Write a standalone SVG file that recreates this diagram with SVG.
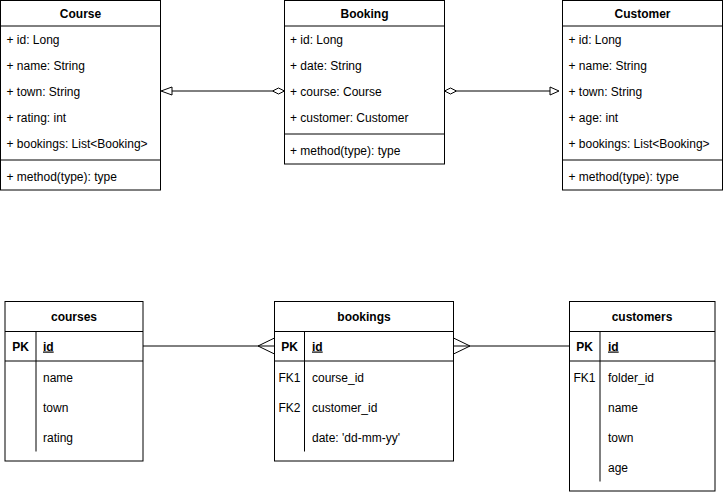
<svg xmlns="http://www.w3.org/2000/svg" width="723" height="492" viewBox="0 0 723 492">
<style>
text{font-family:"Liberation Sans",Arial,sans-serif;font-size:12px;fill:#000}
.t{font-weight:bold;text-anchor:middle}
.c{text-anchor:middle}
.b{font-weight:bold}
.box{fill:#fff;stroke:#000;stroke-width:1}
.ln{stroke:#000;stroke-width:1;fill:none}
</style>
<rect width="723" height="492" fill="#fff"/>
<g id="connectors">
<line class="ln" x1="172" y1="91" x2="272.5" y2="91"/>
<polygon points="161,91 172,87 172,95" fill="#fff" stroke="#000"/>
<polygon points="284.5,91 278.5,88 272.5,91 278.5,94" fill="#fff" stroke="#000"/>
<line class="ln" x1="456.5" y1="91" x2="550" y2="91"/>
<polygon points="444.5,91 450.5,88 456.5,91 450.5,94" fill="#fff" stroke="#000"/>
<polygon points="559,91 550,87 550,95" fill="#fff" stroke="#000"/>
<line class="ln" x1="143" y1="346" x2="274.5" y2="346"/>
<path class="ln" d="M274.5,338 L258,346 L274.5,354"/>
<line class="ln" x1="453.5" y1="346" x2="569.5" y2="346"/>
<path class="ln" d="M453.5,338 L470,346 L453.5,354"/>
</g>
<g id="Course">
<rect class="box" x="0.5" y="0.5" width="160" height="189.5"/>
<line class="ln" x1="0.5" y1="26" x2="160.5" y2="26"/>
<line class="ln" x1="0.5" y1="160" x2="160.5" y2="160"/>
<text class="t" x="80.5" y="17.5">Course</text>
<text x="6.5" y="43.5">+ id: Long</text>
<text x="6.5" y="69.5">+ name: String</text>
<text x="6.5" y="95.5">+ town: String</text>
<text x="6.5" y="121.5">+ rating: int</text>
<text x="6.5" y="147.5">+ bookings: List&lt;Booking&gt;</text>
<text x="6.5" y="181">+ method(type): type</text>
</g>
<g id="Booking">
<rect class="box" x="284.5" y="0.5" width="160" height="163.5"/>
<line class="ln" x1="284.5" y1="26" x2="444.5" y2="26"/>
<line class="ln" x1="284.5" y1="134" x2="444.5" y2="134"/>
<text class="t" x="364.5" y="17.5">Booking</text>
<text x="290" y="43.5">+ id: Long</text>
<text x="290" y="69.5">+ date: String</text>
<text x="290" y="95.5">+ course: Course</text>
<text x="290" y="121.5">+ customer: Customer</text>
<text x="290" y="155">+ method(type): type</text>
</g>
<g id="Customer">
<rect class="box" x="562.5" y="0.5" width="160" height="189.5"/>
<line class="ln" x1="562.5" y1="26" x2="722.5" y2="26"/>
<line class="ln" x1="562.5" y1="160" x2="722.5" y2="160"/>
<text class="t" x="642.5" y="17.5">Customer</text>
<text x="568.5" y="43.5">+ id: Long</text>
<text x="568.5" y="69.5">+ name: String</text>
<text x="568.5" y="95.5">+ town: String</text>
<text x="568.5" y="121.5">+ age: int</text>
<text x="568.5" y="147.5">+ bookings: List&lt;Booking&gt;</text>
<text x="568.5" y="181">+ method(type): type</text>
</g>
<g id="courses">
<rect class="box" x="5" y="301.5" width="138" height="159.5"/>
<line class="ln" x1="5" y1="331.5" x2="143" y2="331.5"/>
<line class="ln" x1="5" y1="361" x2="143" y2="361"/>
<line class="ln" x1="36" y1="331.5" x2="36" y2="451.5"/>
<text class="t" x="74" y="321">courses</text>
<text class="t" x="20.5" y="350.5">PK</text>
<text class="b" x="43" y="350.5" text-decoration="underline">id</text>
<text x="43" y="381.5">name</text>
<text x="43" y="411.5">town</text>
<text x="43" y="441.5">rating</text>
</g>
<g id="bookings">
<rect class="box" x="274.5" y="301.5" width="179" height="159.5"/>
<line class="ln" x1="274.5" y1="331.5" x2="453.5" y2="331.5"/>
<line class="ln" x1="274.5" y1="361" x2="453.5" y2="361"/>
<line class="ln" x1="304.5" y1="331.5" x2="304.5" y2="451.5"/>
<text class="t" x="364" y="321">bookings</text>
<text class="t" x="289.5" y="350.5">PK</text>
<text class="b" x="312" y="350.5" text-decoration="underline">id</text>
<text class="c" x="289.5" y="381.5">FK1</text>
<text x="312" y="381.5">course_id</text>
<text class="c" x="289.5" y="411.5">FK2</text>
<text x="312" y="411.5">customer_id</text>
<text x="312" y="441.5">date: 'dd-mm-yy'</text>
</g>
<g id="customers">
<rect class="box" x="569.5" y="301.5" width="145.5" height="189.5"/>
<line class="ln" x1="569.5" y1="331.5" x2="715" y2="331.5"/>
<line class="ln" x1="569.5" y1="361" x2="715" y2="361"/>
<line class="ln" x1="600" y1="331.5" x2="600" y2="481.5"/>
<text class="t" x="642" y="321">customers</text>
<text class="t" x="584.5" y="350.5">PK</text>
<text class="b" x="608" y="350.5" text-decoration="underline">id</text>
<text class="c" x="584.5" y="381.5">FK1</text>
<text x="608" y="381.5">folder_id</text>
<text x="608" y="411.5">name</text>
<text x="608" y="441.5">town</text>
<text x="608" y="471.5">age</text>
</g>
</svg>
